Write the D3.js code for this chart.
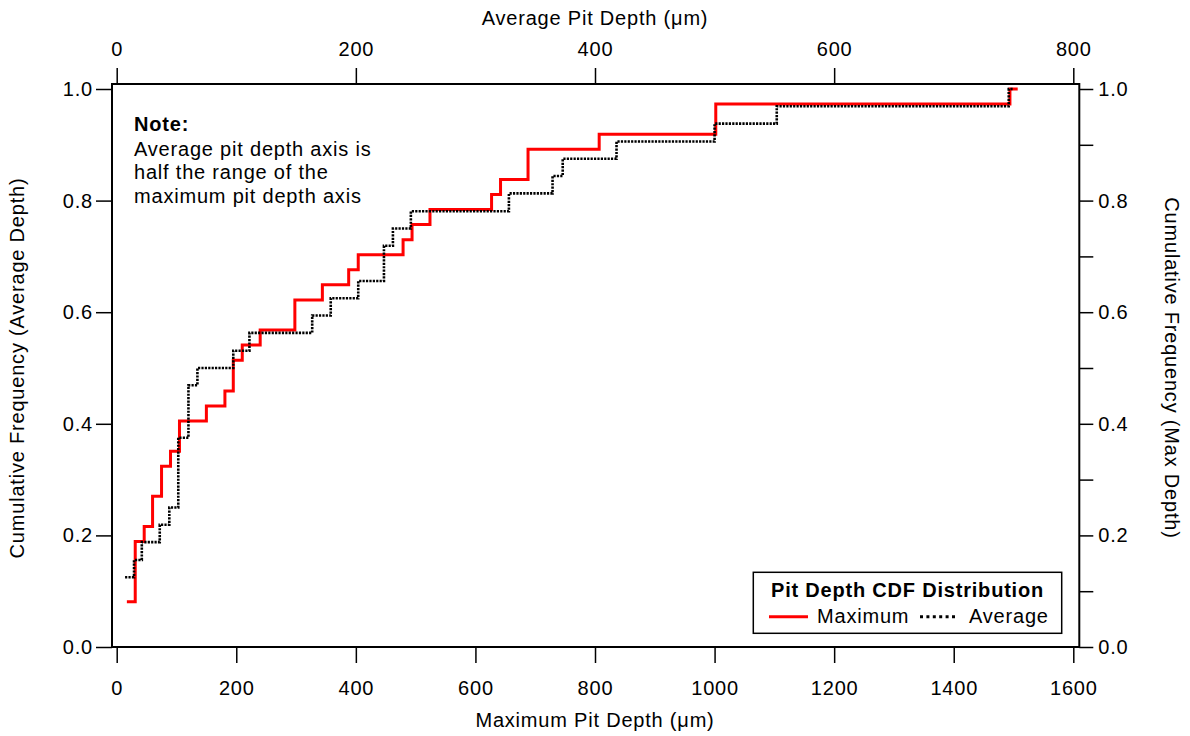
<!DOCTYPE html>
<html><head><meta charset="utf-8">
<script src="https://cdn.jsdelivr.net/npm/d3@7"></script>
<style>
body{margin:0;background:#fff;}
svg text{font-family:"Liberation Sans",Arial,Helvetica,sans-serif;fill:#000;letter-spacing:0.8px;}
</style></head><body>
<svg id="chart" width="1190" height="736"></svg>
<script>
// Maximum pit depth CDF (bottom / right axes)
const maxDepth = [17, 31, 46, 60, 75, 90, 105, 150, 181, 195, 210, 240, 298, 344, 388, 404, 479, 494, 524, 627, 642, 688, 807, 1002, 1494, 1507];
const maxCdf   = [0.081, 0.189, 0.216, 0.270, 0.324, 0.351, 0.405, 0.432, 0.459, 0.514, 0.541, 0.568, 0.622, 0.649, 0.676, 0.703, 0.730, 0.757, 0.784, 0.811, 0.838, 0.892, 0.919, 0.973, 1.0, 1.0];
// Average pit depth CDF (top / left axes)
const avgDepth = [7, 14.5, 21, 36, 44, 51.5, 60, 67.5, 97.5, 111, 163.5, 179, 202, 223.5, 231, 246, 328, 364.5, 373, 418, 500, 552, 746, 750];
const avgCdf   = [0.125, 0.156, 0.188, 0.219, 0.25, 0.375, 0.469, 0.5, 0.531, 0.563, 0.594, 0.625, 0.656, 0.719, 0.75, 0.781, 0.813, 0.844, 0.875, 0.906, 0.938, 0.969, 1.0, 1.0];

const bottomTicks = [0, 200, 400, 600, 800, 1000, 1200, 1400, 1600];
const topTicks = [0, 200, 400, 600, 800];
const yTicks = [0, 0.2, 0.4, 0.6, 0.8, 1.0];
const yMinorTicks = [0.1, 0.3, 0.5, 0.7, 0.9];

const bottomTitle = "Maximum Pit Depth (\u03BCm)";
const topTitle = "Average Pit Depth (\u03BCm)";
const leftTitle = "Cumulative Frequency (Average Depth)";
const rightTitle = "Cumulative Frequency (Max Depth)";
const noteHead = "Note:";
const noteLines = ["Average pit depth axis is", "half the range of the", "maximum pit depth axis"];
const legendTitle = "Pit Depth CDF Distribution";
const seriesNames = ["Maximum", "Average"];

const svg = d3.select("#chart");
svg.append("rect").attr("width", 1190).attr("height", 736).attr("fill", "#fff");

const frame = {left: 112, right: 1079.3, top: 84, bottom: 647};
const xMax = d3.scaleLinear().domain([0, 1600]).range([116.7, 1073.3]);
const xAvg = d3.scaleLinear().domain([0, 800]).range([116.7, 1073.3]);
const yL = d3.scaleLinear().domain([0, 1]).range([647, 89]);
const yR = d3.scaleLinear().domain([0, 1]).range([647, 89]);

const FS = 20;
function styleAxis(g) {
  g.attr("font-size", null).attr("font-family", null);
  g.select(".domain").remove();
  g.selectAll(".tick line").attr("stroke", "#000").attr("stroke-width", 1.5);
  g.selectAll(".tick text").style("font-size", FS + "px");
}

svg.append("g").attr("transform", `translate(0,${frame.bottom})`)
  .call(d3.axisBottom(xMax).tickValues(bottomTicks).tickSize(16).tickPadding(18).tickFormat(d3.format("d")))
  .call(styleAxis);
svg.append("g").attr("transform", `translate(0,${frame.top})`)
  .call(d3.axisTop(xAvg).tickValues(topTicks).tickSize(16).tickPadding(12).tickFormat(d3.format("d")))
  .call(styleAxis);
svg.append("g").attr("transform", `translate(${frame.left},0)`)
  .call(d3.axisLeft(yL).tickValues(yTicks).tickSize(16).tickPadding(3).tickFormat(d3.format(".1f")))
  .call(styleAxis);
svg.append("g").attr("transform", `translate(${frame.right},0)`)
  .call(d3.axisRight(yR).tickValues(yTicks).tickSize(14).tickPadding(5).tickFormat(d3.format(".1f")))
  .call(styleAxis);
svg.append("g").attr("transform", `translate(${frame.right},0)`)
  .call(d3.axisRight(yR).tickValues(yMinorTicks).tickSize(14).tickFormat(""))
  .call(styleAxis);

// frame
svg.append("rect")
  .attr("x", frame.left).attr("y", frame.top)
  .attr("width", frame.right - frame.left).attr("height", frame.bottom - frame.top)
  .attr("fill", "none").attr("stroke", "#000").attr("stroke-width", 2);

// curves
const maxData = maxDepth.map((d, i) => [d, maxCdf[i]]);
const avgData = avgDepth.map((d, i) => [d, avgCdf[i]]);
const lineMax = d3.line().x(d => xMax(d[0])).y(d => yR(d[1])).curve(d3.curveStepAfter);
const lineAvg = d3.line().x(d => xAvg(d[0])).y(d => yL(d[1])).curve(d3.curveStepAfter);

svg.append("path").attr("d", lineMax(maxData))
  .attr("fill", "none").attr("stroke", "#ff0000").attr("stroke-width", 3);
svg.append("path").attr("d", lineAvg(avgData))
  .attr("fill", "none").attr("stroke", "#000").attr("stroke-width", 2.6)
  .attr("stroke-dasharray", "2.2,1.2");

// titles
svg.append("text").attr("x", 595).attr("y", 727).attr("text-anchor", "middle")
  .style("font-size", FS + "px").text(bottomTitle);
svg.append("text").attr("x", 595).attr("y", 25).attr("text-anchor", "middle")
  .style("font-size", FS + "px").text(topTitle);
svg.append("text").attr("transform", "translate(24,368) rotate(-90)").attr("text-anchor", "middle")
  .style("font-size", FS + "px").text(leftTitle);
svg.append("text").attr("transform", "translate(1165,368) rotate(90)").attr("text-anchor", "middle")
  .style("font-size", FS + "px").text(rightTitle);

// note
const note = svg.append("g");
note.append("text").attr("x", 134).attr("y", 131).style("font-size", "20px").style("font-weight", "bold").text(noteHead);
const noteY = [155.5, 179, 202.5];
noteLines.forEach((t, i) => note.append("text").attr("x", 134).attr("y", noteY[i]).style("font-size", "20px").text(t));

// legend
const lg = svg.append("g");
lg.append("rect").attr("x", 753.3).attr("y", 572.3).attr("width", 308.4).attr("height", 61)
  .attr("fill", "#fff").attr("stroke", "#000").attr("stroke-width", 1.5);
lg.append("text").attr("x", 907.5).attr("y", 596.5).attr("text-anchor", "middle")
  .style("font-size", FS + "px").style("font-weight", "bold").text(legendTitle);
lg.append("line").attr("x1", 769).attr("x2", 808).attr("y1", 616.7).attr("y2", 616.7)
  .attr("stroke", "#ff0000").attr("stroke-width", 3);
lg.append("text").attr("x", 817).attr("y", 622.7).style("font-size", FS + "px").text(seriesNames[0]);
lg.append("line").attr("x1", 920).attr("x2", 958).attr("y1", 616.7).attr("y2", 616.7)
  .attr("stroke", "#000").attr("stroke-width", 3).attr("stroke-dasharray", "3,3.4");
lg.append("text").attr("x", 969).attr("y", 622.7).style("font-size", FS + "px").text(seriesNames[1]);
</script>
</body></html>
